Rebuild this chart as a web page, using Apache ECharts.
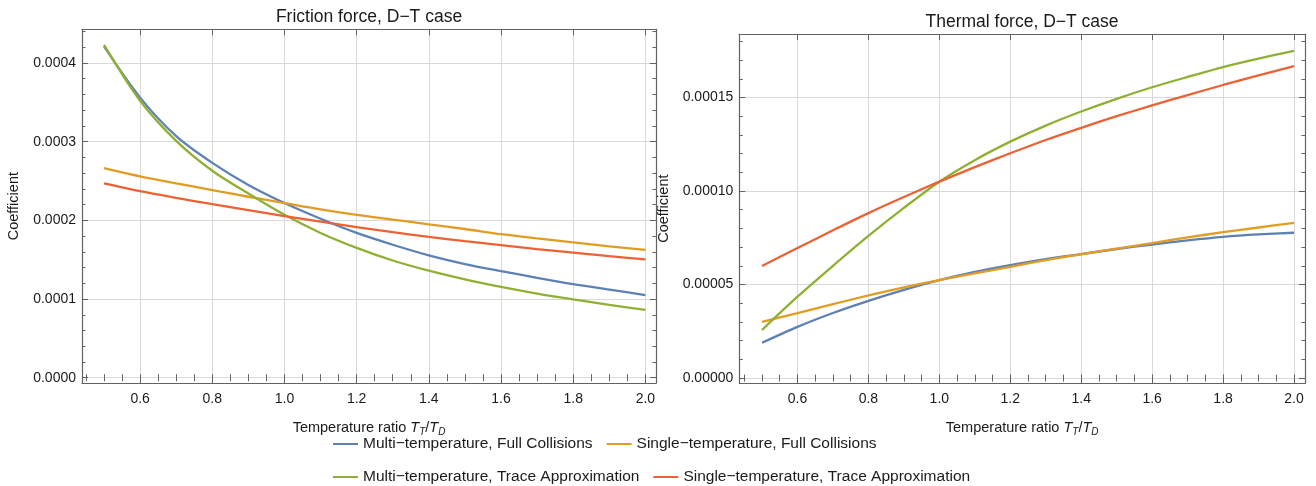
<!DOCTYPE html>
<html>
<head>
<meta charset="utf-8">
<script src="https://cdn.jsdelivr.net/npm/echarts@6/dist/echarts.min.js"></script>
<style>
html,body{margin:0;padding:0;background:#fff;}
#chart{width:1316px;height:486px;}
</style>
</head>
<body>
<div id="chart"></div>
<script>
// ---------------- data ----------------
const tempRatio = [0.5,0.6,0.7,0.8,0.9,1.0,1.1,1.2,1.3,1.4,1.5,1.6,1.7,1.8,1.9,2.0];

const seriesNames = [
  'Multi\u2212temperature, Full Collisions',
  'Single\u2212temperature, Full Collisions',
  'Multi\u2212temperature, Trace Approximation',
  'Single\u2212temperature, Trace Approximation'
];

// Friction force, D-T case
const frictionMultiFull   = [4.21e-4,3.56e-4,3.07e-4,2.73e-4,2.45e-4,2.22e-4,2.02e-4,1.84e-4,1.69e-4,1.555e-4,1.445e-4,1.355e-4,1.27e-4,1.19e-4,1.12e-4,1.05e-4];
const frictionSingleFull  = [2.665e-4,2.56e-4,2.47e-4,2.385e-4,2.30e-4,2.22e-4,2.14e-4,2.07e-4,2.01e-4,1.95e-4,1.89e-4,1.825e-4,1.77e-4,1.72e-4,1.67e-4,1.625e-4];
const frictionMultiTrace  = [4.23e-4,3.52e-4,3.01e-4,2.63e-4,2.34e-4,2.07e-4,1.84e-4,1.65e-4,1.49e-4,1.36e-4,1.25e-4,1.155e-4,1.07e-4,0.995e-4,0.925e-4,0.861e-4];
const frictionSingleTrace = [2.47e-4,2.37e-4,2.285e-4,2.205e-4,2.13e-4,2.055e-4,1.985e-4,1.915e-4,1.85e-4,1.79e-4,1.735e-4,1.685e-4,1.635e-4,1.59e-4,1.545e-4,1.505e-4];

// Thermal force, D-T case
const thermalMultiFull   = [1.89e-5,2.74e-5,3.48e-5,4.13e-5,4.72e-5,5.24e-5,5.68e-5,6.04e-5,6.36e-5,6.63e-5,6.90e-5,7.14e-5,7.36e-5,7.55e-5,7.68e-5,7.77e-5];
const thermalSingleFull  = [3.01e-5,3.47e-5,3.95e-5,4.42e-5,4.85e-5,5.24e-5,5.60e-5,5.95e-5,6.30e-5,6.62e-5,6.92e-5,7.22e-5,7.52e-5,7.80e-5,8.05e-5,8.30e-5];
const thermalMultiTrace  = [2.57e-5,4.35e-5,6.00e-5,7.60e-5,9.10e-5,10.50e-5,11.65e-5,12.64e-5,13.50e-5,14.25e-5,14.93e-5,15.55e-5,16.10e-5,16.63e-5,17.08e-5,17.49e-5];
const thermalSingleTrace = [5.99e-5,6.95e-5,7.90e-5,8.82e-5,9.68e-5,10.50e-5,11.28e-5,12.02e-5,12.73e-5,13.38e-5,14.00e-5,14.58e-5,15.13e-5,15.67e-5,16.18e-5,16.68e-5];

// tick labels
const xTickValues = [0.6,0.8,1.0,1.2,1.4,1.6,1.8,2.0];
const frictionYTicks = [0,0.0001,0.0002,0.0003,0.0004];
const thermalYTicks = [0,0.00005,0.0001,0.00015];

// ---------------- styling / helpers ----------------
const FONT = '"Liberation Sans", Arial, Helvetica, sans-serif';
const FRAME = '#626262';
const GRIDC = '#d9d9d9';
const TXT = '#1a1a1a';
const COLORS = ['#5e81b5','#e19c24','#8fb032','#eb6235'];

function steps(a, b, s) {
  const out = [];
  const n = Math.round((b - a) / s);
  for (let i = 0; i <= n; i++) out.push(+(a + i * s).toFixed(8));
  return out;
}

const xMinor = steps(0.45, 2.0, 0.05);
const frictionYMinor = steps(0, 0.00044, 0.00002);
const thermalYMinor = steps(0, 0.00018, 0.00001);

const xNameRich = {
  n: {fontSize: 14.5, fontFamily: FONT, color: TXT, lineHeight: 18},
  i: {fontSize: 14.5, fontFamily: FONT, color: TXT, fontStyle: 'italic', lineHeight: 18},
  s: {fontSize: 10, fontFamily: FONT, color: TXT, fontStyle: 'italic', lineHeight: 10, verticalAlign: 'bottom'}
};
const xName = '{n|Temperature ratio }{i|T}{s|T}{n|/}{i|T}{s|D}';

function makeXAxes(gi, min, max) {
  const base = {type: 'value', gridIndex: gi, min: min, max: max};
  const line = {show: true, onZero: false, lineStyle: {color: FRAME, width: 1.2}};
  return [
    Object.assign({}, base, {
      position: 'bottom', axisLine: line,
      axisTick: {show: true, inside: true, length: 6, customValues: xTickValues, lineStyle: {color: FRAME, width: 1}},
      axisLabel: {show: true, customValues: xTickValues, margin: 9, formatter: v => Number(v).toFixed(1),
                  fontSize: 14, fontFamily: FONT, color: TXT},
      splitLine: {show: true, lineStyle: {color: GRIDC, width: 1}},
      name: xName, nameLocation: 'middle', nameGap: 36, nameMoveOverlap: false,
      nameTextStyle: {fontSize: 14.5, fontFamily: FONT, color: TXT, rich: xNameRich}
    }),
    Object.assign({}, base, {
      position: 'bottom', axisLine: {show: false},
      axisTick: {show: true, inside: true, length: 3.5, customValues: xMinor, lineStyle: {color: FRAME, width: 1}},
      axisLabel: {show: false}, splitLine: {show: false}
    }),
    Object.assign({}, base, {
      position: 'top', axisLine: line,
      axisTick: {show: true, inside: true, length: 6, customValues: xTickValues, lineStyle: {color: FRAME, width: 1}},
      axisLabel: {show: false}, splitLine: {show: false}
    }),
    Object.assign({}, base, {
      position: 'top', axisLine: {show: false},
      axisTick: {show: true, inside: true, length: 3.5, customValues: xMinor, lineStyle: {color: FRAME, width: 1}},
      axisLabel: {show: false}, splitLine: {show: false}
    })
  ];
}

function makeYAxes(gi, min, max, major, minor, dec, nameGap) {
  const base = {type: 'value', gridIndex: gi, min: min, max: max};
  const line = {show: true, onZero: false, lineStyle: {color: FRAME, width: 1.2}};
  return [
    Object.assign({}, base, {
      position: 'left', axisLine: line,
      axisTick: {show: true, inside: true, length: 6, customValues: major, lineStyle: {color: FRAME, width: 1}},
      axisLabel: {show: true, customValues: major, margin: 6, formatter: v => Math.abs(Number(v)).toFixed(dec),
                  fontSize: 14, fontFamily: FONT, color: TXT},
      splitLine: {show: true, lineStyle: {color: GRIDC, width: 1}},
      name: 'Coefficient', nameLocation: 'middle', nameGap: nameGap, nameMoveOverlap: false,
      nameTextStyle: {fontSize: 14.5, fontFamily: FONT, color: TXT}
    }),
    Object.assign({}, base, {
      position: 'left', axisLine: {show: false},
      axisTick: {show: true, inside: true, length: 3.5, customValues: minor, lineStyle: {color: FRAME, width: 1}},
      axisLabel: {show: false}, splitLine: {show: false}
    }),
    Object.assign({}, base, {
      position: 'right', axisLine: line,
      axisTick: {show: true, inside: true, length: 6, customValues: major, lineStyle: {color: FRAME, width: 1}},
      axisLabel: {show: false}, splitLine: {show: false}
    }),
    Object.assign({}, base, {
      position: 'right', axisLine: {show: false},
      axisTick: {show: true, inside: true, length: 3.5, customValues: minor, lineStyle: {color: FRAME, width: 1}},
      axisLabel: {show: false}, splitLine: {show: false}
    })
  ];
}

function pairs(vals) { return tempRatio.map((x, i) => [x, vals[i]]); }

function lineSeries(name, vals, color, xi, yi) {
  return {
    type: 'line', name: name, data: pairs(vals), xAxisIndex: xi, yAxisIndex: yi,
    smooth: 0.3, symbol: 'none', showSymbol: false, clip: true,
    lineStyle: {color: color, width: 2.3}, itemStyle: {color: color},
    emphasis: {disabled: true}, z: 3
  };
}

const frictionSets = [frictionMultiFull, frictionSingleFull, frictionMultiTrace, frictionSingleTrace];
const thermalSets = [thermalMultiFull, thermalSingleFull, thermalMultiTrace, thermalSingleTrace];

const series = [];
frictionSets.forEach((vals, k) => series.push(lineSeries(seriesNames[k], vals, COLORS[k], 0, 0)));
thermalSets.forEach((vals, k) => series.push(lineSeries(seriesNames[k], vals, COLORS[k], 4, 4)));

const legendCommon = {
  orient: 'horizontal', left: 333, padding: 0, itemGap: 14, itemWidth: 25, itemHeight: 2,
  icon: 'rect', selectedMode: false,
  textStyle: {fontSize: 15.5, fontFamily: FONT, color: TXT}
};

const option = {
  animation: false,
  backgroundColor: '#ffffff',
  title: [
    {text: 'Friction force, D\u2212T case', left: 369, top: 17, textAlign: 'center', textVerticalAlign: 'middle', padding: 0,
     textStyle: {fontSize: 17.5, fontWeight: 'normal', fontFamily: FONT, color: TXT}},
    {text: 'Thermal force, D\u2212T case', left: 1022, top: 22, textAlign: 'center', textVerticalAlign: 'middle', padding: 0,
     textStyle: {fontSize: 17.5, fontWeight: 'normal', fontFamily: FONT, color: TXT}}
  ],
  legend: [
    Object.assign({}, legendCommon, {top: 436, data: [seriesNames[0], seriesNames[1]]}),
    Object.assign({}, legendCommon, {top: 469, data: [seriesNames[2], seriesNames[3]]})
  ],
  grid: [
    {left: 82, top: 29.3, width: 574, height: 353.7, containLabel: false, outerBoundsMode: 'none'},
    {left: 739.3, top: 34, width: 565.7, height: 349.3, containLabel: false, outerBoundsMode: 'none'}
  ],
  xAxis: [].concat(makeXAxes(0, 0.439, 2.0294), makeXAxes(1, 0.436, 2.031)),
  yAxis: [].concat(
    makeYAxes(0, -0.0000067, 0.0004428, frictionYTicks, frictionYMinor, 4, 61),
    makeYAxes(1, -0.0000028, 0.00018396, thermalYTicks, thermalYMinor, 5, 68)
  ),
  series: series
};

const chart = echarts.init(document.getElementById('chart'), null, {renderer: 'canvas'});
chart.setOption(option);
</script>
</body>
</html>
